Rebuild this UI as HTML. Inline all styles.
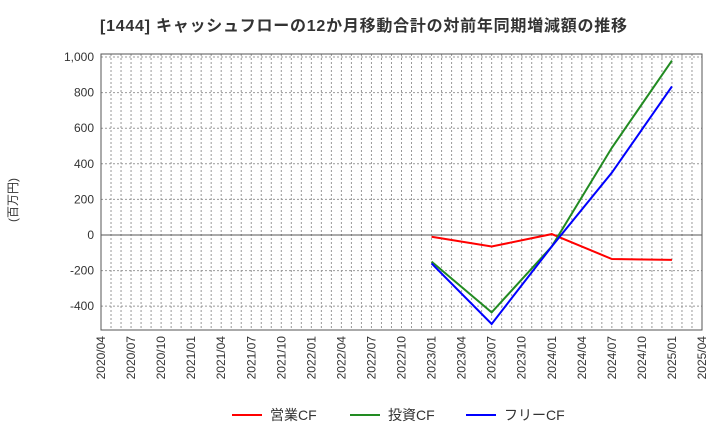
<!DOCTYPE html>
<html><head><meta charset="utf-8"><style>
body{margin:0;background:#fff;font-family:"Liberation Sans","Noto Sans CJK JP",sans-serif}
svg text{font-family:"Liberation Sans","Noto Sans CJK JP",sans-serif}
</style></head><body>
<svg id="c" width="720" height="440" xmlns="http://www.w3.org/2000/svg">
<text x="100" y="31" font-size="16" font-weight="bold" fill="#333" textLength="527">[1444]  キャッシュフローの12か月移動合計の対前年同期増減額の推移</text>
<text transform="translate(17,200) rotate(-90)" font-size="12" fill="#333" text-anchor="middle">(百万円)</text>
</svg>
<script>
const xLabels=["2020/04","2020/07","2020/10","2021/01","2021/04","2021/07","2021/10","2022/01","2022/04","2022/07","2022/10","2023/01","2023/04","2023/07","2023/10","2024/01","2024/04","2024/07","2024/10","2025/01","2025/04"];
const yTicks=[-400,-200,0,200,400,600,800,1000];
const pointIdx=[11,13,15,17,19];
const opCF=[-10,-65,5,-135,-140];
const invCF=[-150,-435,-65,490,980];
const freeCF=[-160,-500,-65,350,835];
const L=101,R=702,T=54,B=330,ymin=-534,ymax=1017;
const xs=i=>L+(R-L)*i/20;
const ys=v=>B-(B-T)*(v-ymin)/(ymax-ymin);
const svg=document.getElementById('c');const NS='http://www.w3.org/2000/svg';
function mk(t,a){const e=document.createElementNS(NS,t);for(const k in a)e.setAttribute(k,a[k]);svg.appendChild(e);return e;}
for(let m=1;m<60;m++){const x=L+(R-L)*m/60;
const g=mk('line',{x1:x,x2:x,y1:T,y2:B,stroke:'#999','stroke-dasharray':'2,2','stroke-width':1});

}
yTicks.forEach(v=>{const y=ys(v);
const g=mk('line',{x1:L,x2:R,y1:y,y2:y,stroke:v===0?'#555':'#999','stroke-dasharray':v===0?'none':'2,2','stroke-width':1});


const t=mk('text',{x:L-7,y:y+4,'font-size':12,'text-anchor':'end',fill:'#333'});t.textContent=v.toLocaleString('en-US');

});
const fr=mk('rect',{x:L,y:T,width:R-L,height:B-T,fill:'none',stroke:'#555'});


xLabels.forEach((s,i)=>{const x=xs(i);const t=mk('text',{transform:`translate(${x+4},${B+6}) rotate(-90)`,'font-size':12,'text-anchor':'end',fill:'#333'});t.textContent=s;

});
[[opCF,'#ff0000','operating-cf-line'],[invCF,'#228b22','investing-cf-line'],[freeCF,'#0000ff','free-cf-line']].forEach(([d,c,n])=>{
const p=mk('polyline',{points:d.map((v,k)=>xs(pointIdx[k])+','+ys(v)).join(' '),fill:'none',stroke:c,'stroke-width':2});

});
[['営業CF','#ff0000',232],['投資CF','#228b22',350],['フリーCF','#0000ff',466]].forEach(([s,c,x])=>{
const l=mk('line',{x1:x,x2:x+30,y1:415,y2:415,stroke:c,'stroke-width':2});


const t=mk('text',{x:x+38,y:420,'font-size':14,fill:'#333'});t.textContent=s;

});
</script>
</body></html>
